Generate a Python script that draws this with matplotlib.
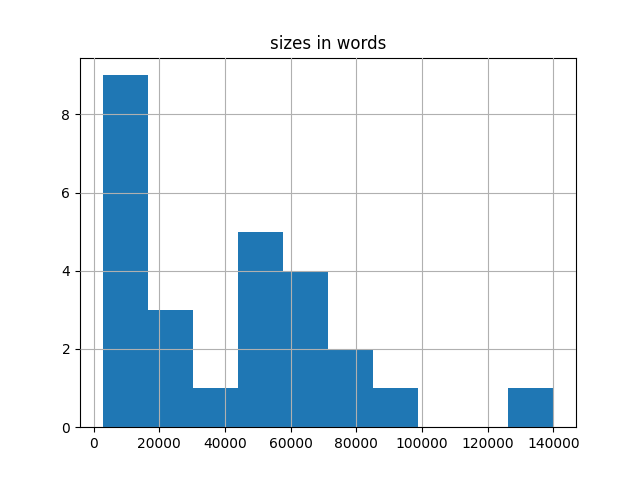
import matplotlib
matplotlib.use("Agg")
import matplotlib.pyplot as plt

title = "sizes in words"
sizes_in_words = [
    2750, 5000, 7000, 8500, 10000, 11500, 13000, 14500, 16000,
    19000, 23000, 27000,
    35000,
    46000, 49000, 52000, 54000, 56000,
    60000, 63000, 66000, 69000,
    75000, 80000,
    90000,
    140000,
]

fig, ax = plt.subplots(figsize=(6.4, 4.8), dpi=100)
ax.hist(sizes_in_words, bins=10, color="#1f77b4")
ax.grid(True)
ax.set_axisbelow(False)
ax.set_title(title)
fig.savefig("out.png")
